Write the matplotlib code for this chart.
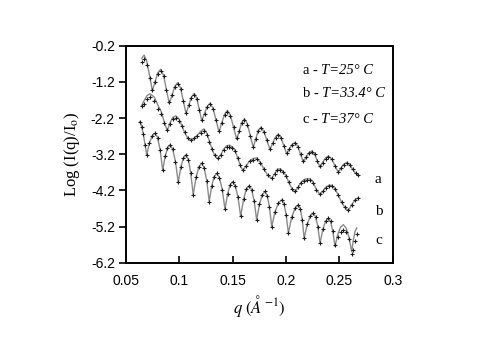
import numpy as np
import matplotlib
matplotlib.use("Agg")
import matplotlib.pyplot as plt

plt.rcParams['mathtext.fontset'] = 'stix'

# curve a, T=25 C
qa = [0.0647, 0.0670, 0.0693, 0.0721, 0.0747, 0.0773, 0.0799, 0.0825, 0.0852, 0.0879,
      0.0906, 0.0932, 0.0959, 0.0985, 0.1011, 0.1037, 0.1063, 0.1089, 0.1114, 0.1140,
      0.1163, 0.1187, 0.1210, 0.1236, 0.1262, 0.1288, 0.1316, 0.1344, 0.1372, 0.1398,
      0.1424, 0.1450, 0.1479, 0.1509, 0.1538, 0.1562, 0.1586, 0.1610, 0.1638, 0.1665,
      0.1693, 0.1716, 0.1740, 0.1763, 0.1792, 0.1821, 0.1850, 0.1876, 0.1902, 0.1928,
      0.1954, 0.1980, 0.2006, 0.2032, 0.2058, 0.2084, 0.2110, 0.2136, 0.2162, 0.2188,
      0.2215, 0.2241, 0.2267, 0.2293, 0.2319, 0.2345, 0.2371, 0.2397, 0.2428, 0.2459,
      0.2490, 0.2516, 0.2543, 0.2569, 0.2597, 0.2625, 0.2652, 0.2678]
a_data = [-0.64, -0.58, -0.73, -1.08, -1.42, -1.21, -0.99, -0.89, -1.05, -1.42,
          -1.77, -1.57, -1.35, -1.26, -1.40, -1.73, -2.05, -1.85, -1.65, -1.56,
          -1.68, -1.97, -2.25, -2.08, -1.90, -1.82, -1.95, -2.26, -2.55, -2.34,
          -2.12, -2.02, -2.15, -2.46, -2.76, -2.56, -2.34, -2.25, -2.38, -2.69,
          -2.99, -2.79, -2.57, -2.48, -2.58, -2.82, -3.05, -2.90, -2.74, -2.67,
          -2.76, -2.97, -3.17, -3.06, -2.95, -2.90, -2.99, -3.20, -3.40, -3.29,
          -3.18, -3.13, -3.20, -3.38, -3.54, -3.43, -3.32, -3.27, -3.34, -3.52,
          -3.68, -3.59, -3.49, -3.45, -3.50, -3.62, -3.72, -3.77]
a_fit = [-0.55, -0.46, -0.62, -1.02, -1.45, -1.19, -0.95, -0.85, -1.02, -1.42,
         -1.80, -1.56, -1.32, -1.22, -1.37, -1.72, -2.08, -1.84, -1.62, -1.52,
         -1.65, -1.96, -2.28, -2.07, -1.88, -1.79, -1.93, -2.26, -2.58, -2.33,
         -2.10, -1.99, -2.13, -2.46, -2.79, -2.55, -2.32, -2.22, -2.36, -2.69,
         -3.01, -2.78, -2.55, -2.46, -2.57, -2.82, -3.07, -2.89, -2.72, -2.65,
         -2.75, -2.97, -3.19, -3.05, -2.93, -2.88, -2.98, -3.20, -3.42, -3.28,
         -3.16, -3.11, -3.19, -3.38, -3.56, -3.42, -3.30, -3.25, -3.33, -3.52,
         -3.70, -3.58, -3.47, -3.43, -3.49, -3.62, -3.73, -3.78]

# curve b, T=33.4 C
qb = [0.0647, 0.0670, 0.0697, 0.0725, 0.0765, 0.0800, 0.0830, 0.0858, 0.0887, 0.0913,
      0.0940, 0.0967, 0.0995, 0.1022, 0.1050, 0.1080, 0.1110, 0.1140, 0.1170, 0.1200,
      0.1230, 0.1255, 0.1280, 0.1305, 0.1332, 0.1360, 0.1388, 0.1415, 0.1443, 0.1470,
      0.1497, 0.1522, 0.1548, 0.1572, 0.1595, 0.1627, 0.1660, 0.1693, 0.1725, 0.1760,
      0.1795, 0.1830, 0.1866, 0.1893, 0.1918, 0.1944, 0.1972, 0.2000, 0.2028, 0.2056,
      0.2084, 0.2112, 0.2140, 0.2168, 0.2196, 0.2225, 0.2255, 0.2285, 0.2320, 0.2347,
      0.2374, 0.2401, 0.2428, 0.2459, 0.2490, 0.2521, 0.2553, 0.2584, 0.2615, 0.2647,
      0.2678]
b_data = [-1.88, -1.80, -1.68, -1.61, -1.72, -1.95, -2.10, -2.35, -2.53, -2.36,
          -2.24, -2.20, -2.28, -2.42, -2.60, -2.74, -2.80, -2.76, -2.70, -2.62,
          -2.57, -2.66, -2.85, -3.05, -3.22, -3.30, -3.22, -3.08, -3.00, -2.99,
          -3.03, -3.10, -3.30, -3.50, -3.63, -3.52, -3.40, -3.35, -3.33, -3.45,
          -3.62, -3.78, -3.85, -3.74, -3.65, -3.63, -3.70, -3.80, -3.98, -4.15,
          -4.23, -4.12, -4.00, -3.93, -3.91, -3.91, -4.00, -4.18, -4.30, -4.22,
          -4.13, -4.09, -4.09, -4.17, -4.33, -4.52, -4.66, -4.74, -4.60, -4.47,
          -4.42]
b_fit = [-1.85, -1.72, -1.58, -1.53, -1.62, -1.85, -2.02, -2.30, -2.55, -2.33,
         -2.18, -2.14, -2.22, -2.40, -2.60, -2.76, -2.82, -2.76, -2.67, -2.57,
         -2.50, -2.60, -2.82, -3.05, -3.24, -3.33, -3.22, -3.06, -2.97, -2.95,
         -3.00, -3.10, -3.31, -3.52, -3.65, -3.52, -3.38, -3.32, -3.30, -3.43,
         -3.62, -3.79, -3.87, -3.74, -3.63, -3.60, -3.68, -3.80, -3.99, -4.16,
         -4.25, -4.12, -3.98, -3.90, -3.88, -3.88, -3.98, -4.18, -4.32, -4.22,
         -4.11, -4.06, -4.06, -4.16, -4.33, -4.53, -4.68, -4.76, -4.60, -4.46,
         -4.40]

# curve c, T=37 C
qc = [0.0631, 0.0647, 0.0663, 0.0679, 0.0694, 0.0720, 0.0746, 0.0772, 0.0796, 0.0820,
      0.0844, 0.0867, 0.0889, 0.0912, 0.0938, 0.0964, 0.0990, 0.1014, 0.1038, 0.1062,
      0.1085, 0.1107, 0.1130, 0.1157, 0.1183, 0.1210, 0.1233, 0.1257, 0.1280, 0.1303,
      0.1327, 0.1350, 0.1376, 0.1402, 0.1428, 0.1452, 0.1476, 0.1500, 0.1525, 0.1550,
      0.1575, 0.1602, 0.1628, 0.1655, 0.1678, 0.1702, 0.1725, 0.1751, 0.1777, 0.1803,
      0.1824, 0.1845, 0.1866, 0.1897, 0.1929, 0.1960, 0.1981, 0.2001, 0.2022, 0.2053,
      0.2085, 0.2116, 0.2134, 0.2152, 0.2170, 0.2199, 0.2227, 0.2256, 0.2277, 0.2298,
      0.2319, 0.2345, 0.2371, 0.2397, 0.2418, 0.2438, 0.2459, 0.2485, 0.2511, 0.2537,
      0.2563, 0.2590, 0.2616, 0.2632, 0.2648, 0.2663]
c_data = [-2.30, -2.44, -2.65, -2.95, -3.22, -2.89, -2.69, -2.62, -2.74, -3.08,
          -3.65, -3.26, -3.03, -2.94, -3.06, -3.41, -3.98, -3.56, -3.31, -3.22,
          -3.35, -3.72, -4.32, -3.84, -3.55, -3.45, -3.58, -3.93, -4.51, -4.08,
          -3.82, -3.73, -3.85, -4.18, -4.72, -4.30, -4.05, -3.96, -4.08, -4.39,
          -4.92, -4.45, -4.17, -4.07, -4.18, -4.50, -5.02, -4.59, -4.32, -4.23,
          -4.35, -4.67, -5.20, -4.79, -4.55, -4.46, -4.57, -4.87, -5.38, -4.95,
          -4.69, -4.60, -4.71, -5.01, -5.52, -5.14, -4.91, -4.83, -4.93, -5.20,
          -5.66, -5.28, -5.05, -4.97, -5.06, -5.32, -5.70, -5.50, -5.35, -5.30,
          -5.35, -5.55, -5.95, -5.85, -5.60, -5.40]
c_fit = [-2.30, -2.44, -2.65, -2.95, -3.22, -2.89, -2.69, -2.62, -2.74, -3.08,
         -3.65, -3.26, -3.03, -2.94, -3.06, -3.41, -3.98, -3.56, -3.31, -3.22,
         -3.35, -3.72, -4.32, -3.84, -3.55, -3.45, -3.58, -3.93, -4.51, -4.08,
         -3.82, -3.73, -3.85, -4.18, -4.72, -4.30, -4.05, -3.96, -4.08, -4.39,
         -4.92, -4.45, -4.17, -4.07, -4.18, -4.50, -5.02, -4.59, -4.32, -4.23,
         -4.35, -4.67, -5.20, -4.79, -4.55, -4.46, -4.57, -4.87, -5.38, -4.95,
         -4.69, -4.60, -4.71, -5.01, -5.52, -5.14, -4.91, -4.83, -4.93, -5.20,
         -5.66, -5.28, -5.05, -4.97, -5.06, -5.32, -5.75, -5.42, -5.22, -5.15,
         -5.24, -5.49, -5.90, -5.55, -5.33, -5.24]

legend_names = ["a", "b", "c"]
legend_temps = ["25", "33.4", "37"]
legend_y = [-0.99, -1.62, -2.33]
end_labels = ["a", "b", "c"]
end_y = [-3.91, -4.78, -5.60]

fig = plt.figure(figsize=(4.91, 3.42), dpi=100)
ax = fig.add_axes([0.2566, 0.2319, 0.5432, 0.6345])

for q, yd, yf in [(qa, a_data, a_fit), (qb, b_data, b_fit), (qc, c_data, c_fit)]:
    ax.plot(q, yf, color='#8a8a8a', lw=1.0, zorder=2)
    ax.plot(q, yd, ls='none', marker='+', ms=3.5, mew=0.8, color='#1a1a1a', zorder=3)

# legend made of plain text, like the original
serif = 'Liberation Serif'
for s, t, y in zip(legend_names, legend_temps, legend_y):
    t1 = ax.text(0.2159, y, s + " - ", fontsize=10.5, va='baseline', ha='left', family=serif)
    ax.annotate("T=" + t + "° C", xy=(1, 0), xycoords=t1, va='bottom', ha='left',
                fontsize=10.5, family=serif, style='italic')

for s, y in zip(end_labels, end_y):
    ax.text(0.2834, y, s, fontsize=11, va='center', ha='left', family=serif)

ax.set_xlim(0.05, 0.3)
ax.set_ylim(-6.2, -0.2)
ax.set_xticks([0.05, 0.1, 0.15, 0.2, 0.25, 0.3])
ax.set_xticklabels(["0.05", "0.1", "0.15", "0.2", "0.25", "0.3"])
ax.set_yticks([-0.2, -1.2, -2.2, -3.2, -4.2, -5.2, -6.2])
ax.set_yticklabels(["-0.2", "-1.2", "-2.2", "-3.2", "-4.2", "-5.2", "-6.2"])
ax.tick_params(axis='x', direction='in', length=5, width=1.2, pad=8)
ax.tick_params(axis='y', direction='out', length=5, width=1.2, pad=3)
for lab in ax.get_xticklabels() + ax.get_yticklabels():
    lab.set_family('Liberation Sans')
    lab.set_fontsize(10)
for sp in ax.spines.values():
    sp.set_linewidth(1.4)

ax.set_ylabel(r'Log (I(q)/I$_\mathrm{o}$)', family=serif, fontsize=12, labelpad=6)
ax.set_xlabel(r'$q\ (Å^{-1})$', fontsize=12, labelpad=4)

plt.savefig("out.png", dpi=100)
